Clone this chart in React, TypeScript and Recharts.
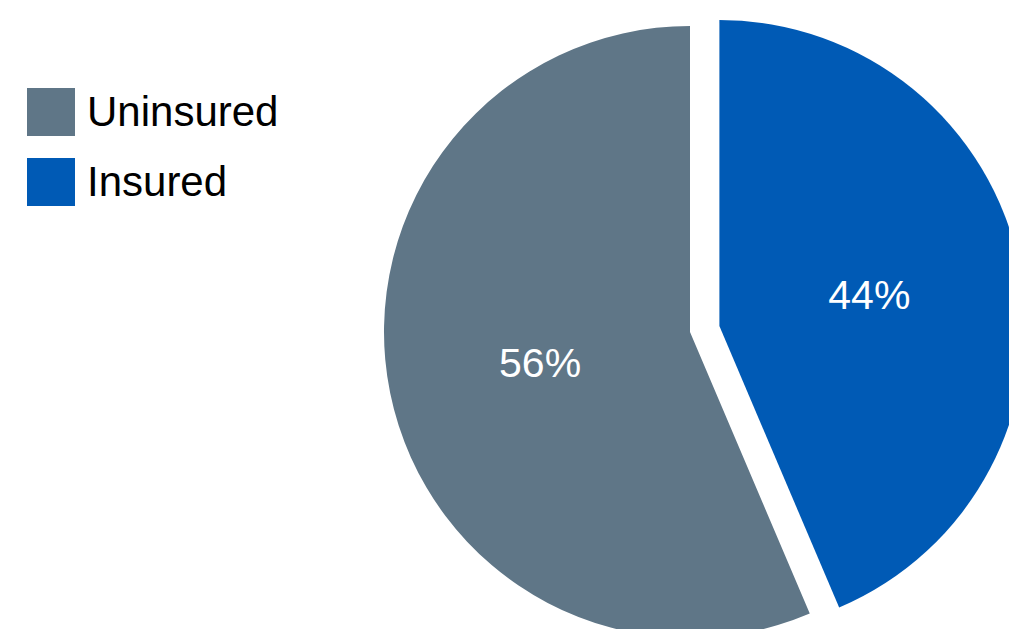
import React from 'react';
import { PieChart, Pie, Cell } from 'recharts';

const categories = ['Insured', 'Uninsured'];
const values = [43.6, 56.4];
const colors = ['#005AB5', '#5F7687'];
const legendOrder = ['Uninsured', 'Insured'];
const explodedCategory = 'Insured';

const data = categories.map((name, i) => ({ name, value: values[i] }));

const W = 1009;
const H = 629;
const CX = 690;
const CY = 332;
const R = 306;
const START = 90;
const END = -270;
const EXPLODE = 30;
const FONT = "'Liberation Sans', Arial, sans-serif";
const RAD = Math.PI / 180;

// explode offset from the data (bisector of exploded slice)
const total = values.reduce((a, b) => a + b, 0);
const explodedIdx = categories.indexOf(explodedCategory);
const before = values.slice(0, explodedIdx).reduce((a, b) => a + b, 0);
const midAngle = START + ((END - START) * (before + values[explodedIdx] / 2)) / total;
const dx = EXPLODE * Math.cos(midAngle * RAD);
const dy = -EXPLODE * Math.sin(midAngle * RAD);

const makeLabel = (visible: (i: number) => boolean) => (props: any) => {
  const { cx, cy, midAngle: ma, outerRadius, percent, index } = props;
  if (!visible(index)) return <g />;
  const r = outerRadius * 0.5;
  const x = cx + r * Math.cos(-ma * RAD);
  const y = cy + r * Math.sin(-ma * RAD);
  return (
    <text x={x} y={y} fill="#ffffff" fontSize={41} fontFamily={FONT} textAnchor="middle" dominantBaseline="central">
      {`${Math.round(percent * 100)}%`}
    </text>
  );
};

const LegendBox = () => (
  <div style={{ position: 'absolute', left: 27, top: 88, fontFamily: FONT }}>
    {legendOrder.map((name, k) => (
      <div key={name} style={{ display: 'flex', alignItems: 'center', height: 48, marginBottom: k === 0 ? 22 : 0 }}>
        <div style={{ width: 48, height: 48, background: colors[categories.indexOf(name)] }} />
        <span style={{ marginLeft: 12, fontSize: 42, lineHeight: '48px', color: '#000', whiteSpace: 'nowrap' }}>{name}</span>
      </div>
    ))}
  </div>
);

export default function App() {
  return (
    <div style={{ position: 'absolute', left: 0, top: 0, width: W, height: H, background: '#fff', overflow: 'hidden' }}>
      <PieChart width={W} height={H} margin={{ top: 0, right: 0, bottom: 0, left: 0 }}>
        <Pie
          data={data}
          dataKey="value"
          nameKey="name"
          cx={CX}
          cy={CY}
          outerRadius={R}
          startAngle={START}
          endAngle={END}
          stroke="none"
          labelLine={false}
          label={makeLabel((i) => i !== explodedIdx)}
          isAnimationActive={false}
        >
          {data.map((d, i) => (
            <Cell key={d.name} fill={i === explodedIdx ? 'transparent' : colors[i]} stroke="none" />
          ))}
        </Pie>
        <Pie
          data={data}
          dataKey="value"
          nameKey="name"
          cx={CX + dx}
          cy={CY + dy}
          outerRadius={R}
          startAngle={START}
          endAngle={END}
          stroke="none"
          labelLine={false}
          label={makeLabel((i) => i === explodedIdx)}
          isAnimationActive={false}
        >
          {data.map((d, i) => (
            <Cell key={d.name} fill={i === explodedIdx ? colors[i] : 'transparent'} stroke="none" />
          ))}
        </Pie>
      </PieChart>
      <LegendBox />
    </div>
  );
}
